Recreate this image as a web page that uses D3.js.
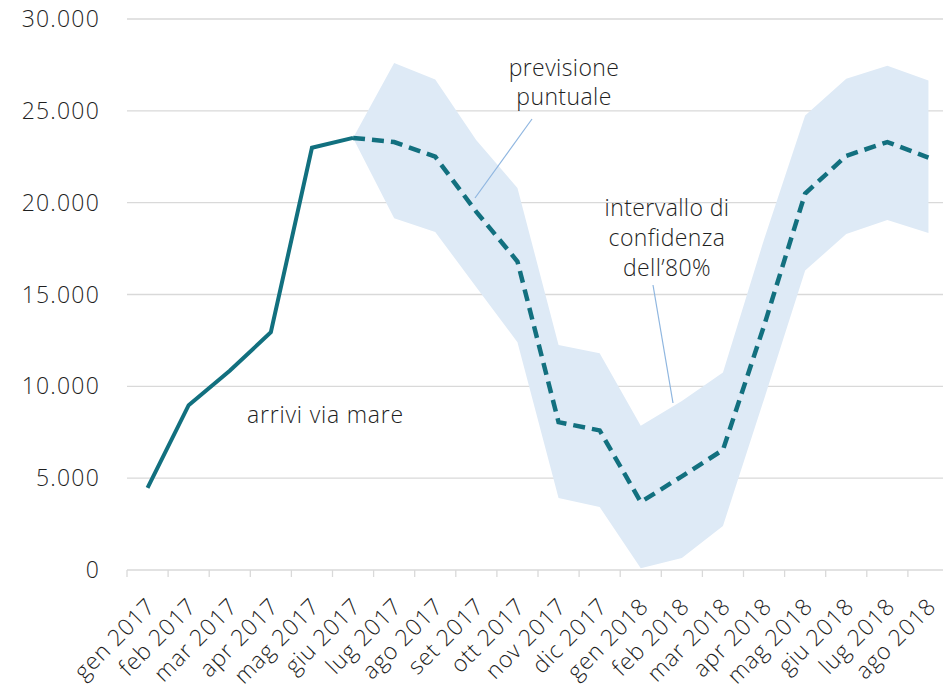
<!DOCTYPE html>
<html>
<head>
<meta charset="utf-8">
<script src="https://cdn.jsdelivr.net/npm/d3@7"></script>
<style>
  body { margin: 0; background: #fff; }
  svg { display: block; font-family: "Open Sans", sans-serif; }
  .lbl { fill: #1f1f1f; }
</style>
</head>
<body>
<svg></svg>
<script>
const W = 943, H = 693;
const marginLeft = 127, marginTop = 19, plotBottom = 570;

const months = ["gen 2017","feb 2017","mar 2017","apr 2017","mag 2017","giu 2017",
  "lug 2017","ago 2017","set 2017","ott 2017","nov 2017","dic 2017",
  "gen 2018","feb 2018","mar 2018","apr 2018","mag 2018","giu 2018","lug 2018","ago 2018"];

// arrivi osservati (gen-giu 2017)
const actual = [4467, 8971, 10853, 12943, 22993, 23526];
// previsione puntuale (giu 2017 - ago 2018)
const forecast = [23526, 23300, 22500, 19500, 16800, 8050, 7600, 3700, 5100, 6540, 13300, 20500, 22550, 23300, 22450];
// intervallo di confidenza 80%
const upper = [23526, 27600, 26700, 23400, 20800, 12250, 11800, 7850, 9200, 10750, 18000, 24750, 26750, 27450, 26650];
const lower = [23526, 19150, 18400, 15400, 12400, 3920, 3430, 100, 650, 2400, 9300, 16300, 18300, 19050, 18350];
const yTicks = [0, 5000, 10000, 15000, 20000, 25000, 30000];

const svg = d3.select("svg").attr("width", W).attr("height", H);

const x = d3.scaleBand().domain(months).range([marginLeft, marginLeft + 20 * 41.1]).padding(0);
const y = d3.scaleLinear().domain([0, 30000]).range([plotBottom, marginTop]);
const xc = d => x(d) + x.bandwidth() / 2;
const fmt = v => d3.format(",")(v).replace(/,/g, ".");

// griglia
svg.append("g")
  .selectAll("line")
  .data(yTicks.slice(1))
  .enter().append("line")
  .attr("x1", marginLeft).attr("x2", W)
  .attr("y1", d => y(d)).attr("y2", d => y(d))
  .attr("stroke", "#d9d9d9").attr("stroke-width", 1.3);

// asse y
svg.append("g")
  .selectAll("text")
  .data(yTicks)
  .enter().append("text")
  .attr("class", "lbl")
  .attr("x", 100).attr("y", d => y(d))
  .attr("dy", "0.35em")
  .attr("text-anchor", "end")
  .attr("font-size", 23)
  .attr("font-weight", 300)
  .attr("letter-spacing", 1.2)
  .text(fmt);

// asse x
const xAxis = svg.append("g").attr("transform", `translate(0, ${plotBottom})`);
xAxis.append("line").attr("x1", marginLeft).attr("x2", W)
  .attr("stroke", "#d9d9d9").attr("stroke-width", 1.3);
xAxis.selectAll(".tk")
  .data(months)
  .enter().append("line")
  .attr("class", "tk")
  .attr("x1", d => x(d)).attr("x2", d => x(d))
  .attr("y1", 0).attr("y2", 7)
  .attr("stroke", "#d9d9d9").attr("stroke-width", 1.3);
xAxis.selectAll("text")
  .data(months)
  .enter().append("text")
  .attr("class", "lbl")
  .attr("text-anchor", "end")
  .attr("font-size", 23)
  .attr("font-weight", 300)
  .attr("letter-spacing", 0.8)
  .attr("transform", d => `translate(${xc(d) + 9}, 38) rotate(-45)`)
  .text(d => d);

// banda di confidenza
const fc = months.slice(5);
const area = d3.area()
  .x((d, i) => xc(fc[i]))
  .y0((d, i) => y(lower[i]))
  .y1(d => y(d));
svg.append("path")
  .datum(upper)
  .attr("d", area)
  .attr("fill", "#deeaf6");

// linee
const line = d3.line().x((d, i) => xc(months[i])).y(d => y(d));
svg.append("path")
  .datum(actual)
  .attr("d", line)
  .attr("fill", "none")
  .attr("stroke", "#12707f")
  .attr("stroke-width", 4);

const lineF = d3.line().x((d, i) => xc(fc[i])).y(d => y(d));
svg.append("path")
  .datum(forecast)
  .attr("d", lineF)
  .attr("fill", "none")
  .attr("stroke", "#12707f")
  .attr("stroke-width", 4.5)
  .attr("stroke-dasharray", "12 7");

// annotazioni
svg.append("line")
  .attr("x1", 532).attr("y1", 119).attr("x2", 475).attr("y2", 198)
  .attr("stroke", "#8fb6e0").attr("stroke-width", 1.2);
svg.append("line")
  .attr("x1", 653).attr("y1", 285).attr("x2", 673).attr("y2", 403)
  .attr("stroke", "#8fb6e0").attr("stroke-width", 1.2);

const note = (lines, cx, cy0, step) => {
  const t = svg.append("text")
    .attr("class", "lbl")
    .attr("text-anchor", "middle")
    .attr("font-size", 23)
    .attr("font-weight", 300)
    .attr("letter-spacing", 0.4);
  lines.forEach((s, i) => {
    t.append("tspan").attr("x", cx).attr("y", cy0 + i * step).attr("dy", "0.35em").text(s);
  });
};
note(["previsione", "puntuale"], 564, 68, 29);
note(["intervallo di", "confidenza", "dell\u201980%"], 667, 208, 30);

svg.append("text")
  .attr("class", "lbl")
  .attr("x", 247).attr("y", 415)
  .attr("dy", "0.35em")
  .attr("font-size", 23)
  .attr("font-weight", 300)
  .attr("letter-spacing", 0.8)
  .text("arrivi via mare");
</script>
</body>
</html>
